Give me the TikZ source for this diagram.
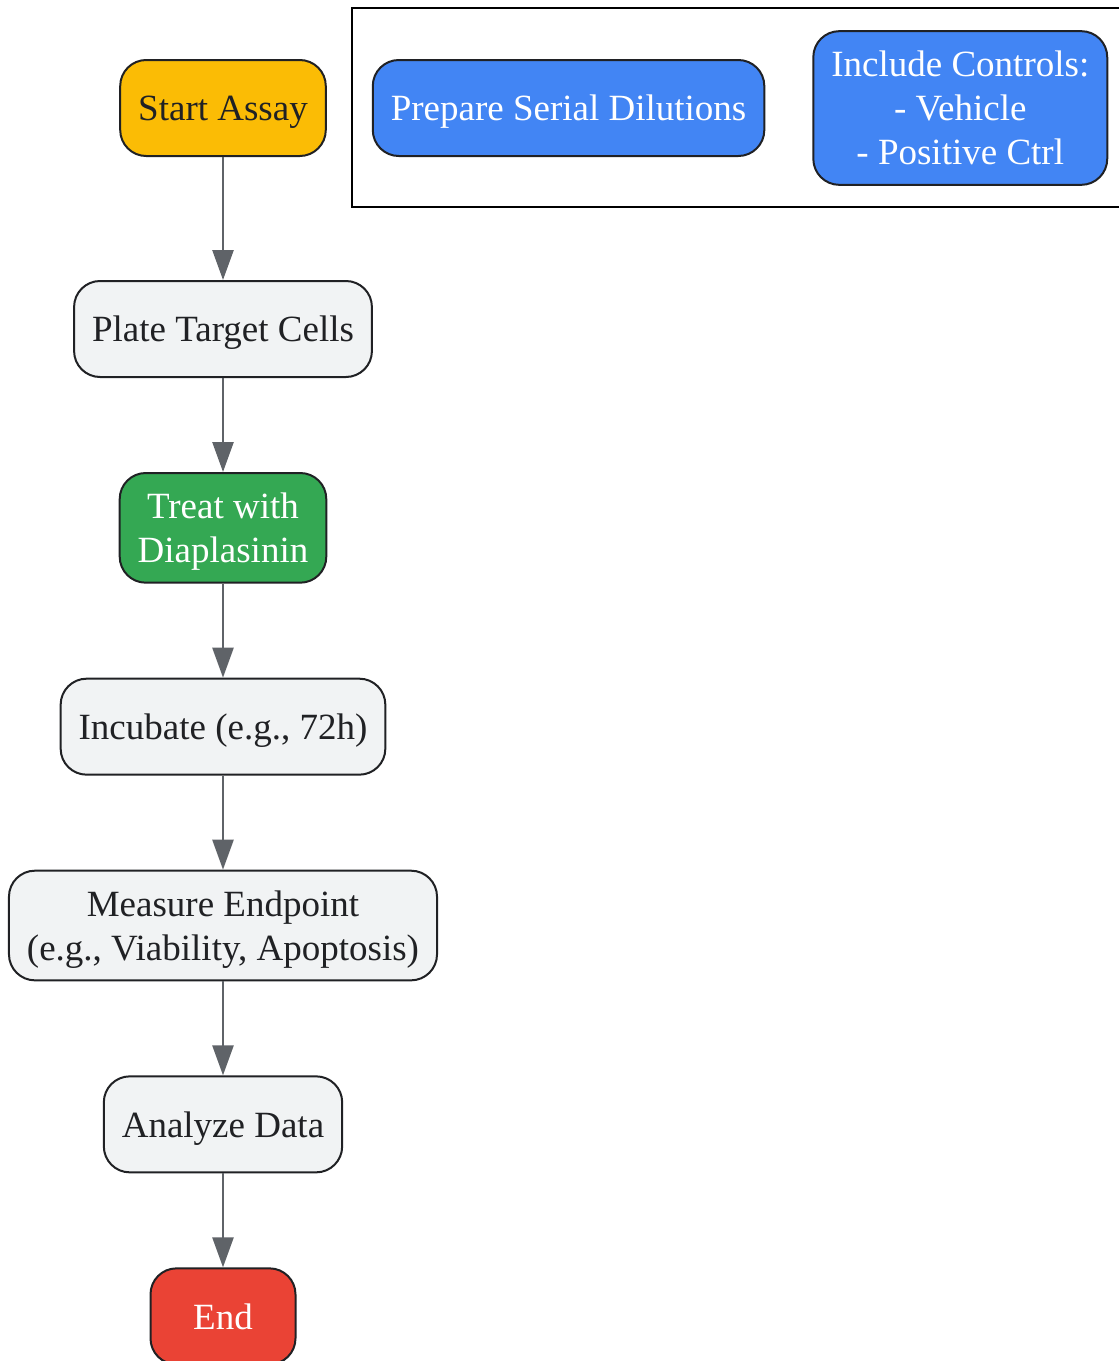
\documentclass[tikz,border=0pt]{standalone}
\usepackage{fontspec}
\setmainfont{Liberation Serif}
\usepackage{tikz}
\usetikzlibrary{positioning,arrows.meta}
\usepackage{xcolor}
\definecolor{stepfill}{HTML}{F1F3F4}
\definecolor{textdark}{HTML}{202124}
\definecolor{linegray}{HTML}{5F6368}
\definecolor{startyellow}{HTML}{FBBC05}
\definecolor{treatgreen}{HTML}{34A853}
\definecolor{prepblue}{HTML}{4285F4}
\definecolor{endred}{HTML}{EA4335}

\begin{document}
\begin{tikzpicture}[%
    x=0.5pt,
    y=-0.5pt,
    -{Triangle[width=10.5pt,length=15pt]},
    node distance=47pt,
    stepnode/.style={%
      rectangle,
      rounded corners=13pt,
      draw=textdark,
      line width=1pt,
      fill=stepfill,
      text=textdark,
      align=center,
      minimum height=48pt,
      inner xsep=9pt,
      inner ysep=10pt,
      text depth=0pt,
      font=\fontsize{18.5}{22}\selectfont
    },
    flow/.style={color=linegray, line width=1.3pt}
  ]
    \useasboundingbox (0,0) rectangle (1119,1361);

    \node[stepnode, fill=startyellow] (begin) at (223,108)        {Start Assay};
    \node[stepnode] (plate) [node distance=61.5pt, below=of begin] {Plate Target Cells};
    \node[stepnode, fill=treatgreen, text=white] (treat) [below=of plate] {Treat with\\Diaplasinin};
    \node[stepnode] (incubate) [below=of treat]                   {Incubate (e.g., 72h)};
    \node[stepnode] (measure) [below=of incubate]                 {Measure Endpoint\\(e.g., Viability, Apoptosis)};
    \node[stepnode] (analyze) [below=of measure]                  {Analyze Data};
    \node[stepnode, fill=endred, text=white, minimum width=72.5pt] (finish) [below=of analyze] {End};

    \node[stepnode, fill=prepblue, text=white] (dilute) [node distance=22.5pt, right=of begin] {Prepare Serial Dilutions};
    \node[stepnode, fill=prepblue, text=white] (controls) [node distance=23.5pt, right=of dilute] {Include Controls:\\- Vehicle\\- Positive Ctrl};

    \draw[-, line width=1pt] ([xshift=-10pt]dilute.west |- controls.north) ++(0,-22)
      coordinate (frametop) rectangle ([xshift=10pt,yshift=-10.5pt]controls.south east);

    \path[flow] (begin) edge (plate)
          (plate) edge (treat)
          (treat) edge (incubate)
          (incubate) edge (measure)
          (measure) edge (analyze)
          (analyze) edge (finish)
          ;
  \end{tikzpicture}
\end{document}
